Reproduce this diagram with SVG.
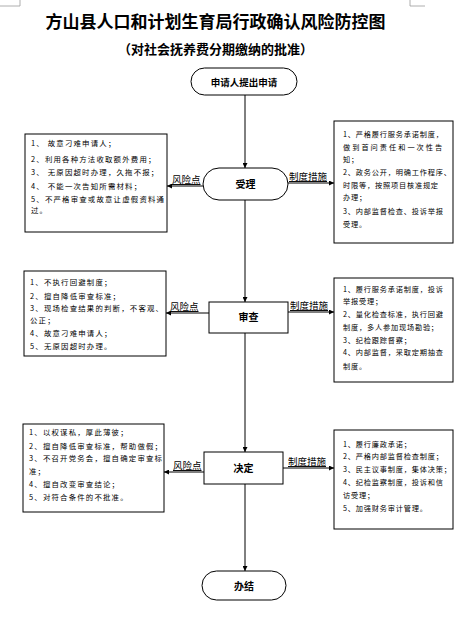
<svg xmlns="http://www.w3.org/2000/svg" width="463" height="617" viewBox="0 0 463 617">
<defs>
<marker id="ah" viewBox="0 0 10 10" refX="10" refY="5" markerWidth="5" markerHeight="5" orient="auto" markerUnits="userSpaceOnUse">
<path d="M0,0 L10,5 L0,10 Z" fill="#000"/>
</marker>
</defs>
<style>
text{font-family:"Noto Sans CJK SC","Liberation Sans",sans-serif;fill:#000}
.title{font-size:17px;font-weight:bold}
.sub{font-size:13px;font-weight:bold}
.node{font-size:10px;font-weight:bold}
.lbl{font-size:9.5px;text-decoration:underline}
.box{font-size:7.4px;letter-spacing:1.2px}
.rbox{font-size:7.2px;letter-spacing:0.8px}
.shape{fill:#fff;stroke:#000;stroke-width:1}
.conn{stroke:#000;stroke-width:1;fill:none;marker-end:url(#ah)}
.mark{stroke:#999;stroke-width:0.8;fill:none}
</style>
<rect width="463" height="617" fill="#fff"/>
<path class="mark" d="M20,0 V6 H0 M410,0 V6 H425"/>
<text class="title" x="215.5" y="28" text-anchor="middle">方山县人口和计划生育局行政确认风险防控图</text>
<text class="sub" x="215.5" y="54" text-anchor="middle">（对社会抚养费分期缴纳的批准）</text>

<g id="start">
<rect class="shape" x="191" y="68" width="106" height="27" rx="13.5"/>
<text class="node" x="244" y="85.5" text-anchor="middle" style="font-size:9.5px">申请人提出申请</text>
</g>
<g id="accept">
<rect class="shape" x="203" y="168" width="85" height="32" rx="16"/>
<text class="node" x="245.5" y="188" text-anchor="middle">受理</text>
</g>
<g id="review">
<rect class="shape" x="209" y="302" width="79" height="31"/>
<text class="node" x="248.5" y="321" text-anchor="middle">审查</text>
</g>
<g id="decide">
<rect class="shape" x="204" y="452" width="79" height="32"/>
<text class="node" x="243.5" y="472" text-anchor="middle">决定</text>
</g>
<g id="end">
<rect class="shape" x="202" y="571" width="84" height="29" rx="14.5"/>
<text class="node" x="244" y="589.5" text-anchor="middle">办结</text>
</g>

<g id="risk1">
<rect class="shape" x="25" y="134" width="142" height="98"/>
<text class="box" x="31" y="146">1、 故意刁难申请人；</text>
<text class="box" x="31" y="162">2、利用各种方法收取额外费用；</text>
<text class="box" x="31" y="175">3、 无原因超时办理，久拖不报；</text>
<text class="box" x="31" y="189">4、 不能一次告知所需材料；</text>
<text class="box" x="31" y="202">5、不严格审查或故意让虚假资料通</text>
<text class="box" x="31" y="213">过。</text>
</g>
<g id="measure1">
<rect class="shape" x="334" y="121" width="119" height="122"/>
<text class="rbox" x="343" y="137">1、严格履行服务承诺制度，</text>
<text class="rbox" x="343" y="150" textLength="100" lengthAdjust="spacing">做到首问责任和一次性告</text>
<text class="rbox" x="343" y="162">知；</text>
<text class="rbox" x="343" y="175">2、政务公开，明确工作程序、</text>
<text class="rbox" x="343" y="188">时限等，按照项目核准规定</text>
<text class="rbox" x="343" y="200">办理；</text>
<text class="rbox" x="343" y="214">3、内部监督检查、投诉举报</text>
<text class="rbox" x="343" y="227">受理。</text>
</g>
<g id="risk2">
<rect class="shape" x="24" y="271" width="142" height="85"/>
<text class="box" x="30" y="285">1、不执行回避制度；</text>
<text class="box" x="30" y="299">2、擅自降低审查标准；</text>
<text class="box" x="30" y="311">3、现场检查结果的判断，不客观、</text>
<text class="box" x="30" y="323">公正；</text>
<text class="box" x="30" y="336">4、故意刁难申请人；</text>
<text class="box" x="30" y="349">5、无原因超时办理。</text>
</g>
<g id="measure2">
<rect class="shape" x="334" y="278" width="119" height="104"/>
<text class="rbox" x="343" y="292">1、履行服务承诺制度，投诉</text>
<text class="rbox" x="343" y="304">举报受理；</text>
<text class="rbox" x="343" y="317">2、量化检查标准，执行回避</text>
<text class="rbox" x="343" y="330">制度，多人参加现场勘验；</text>
<text class="rbox" x="343" y="343">3、纪检跟踪督察；</text>
<text class="rbox" x="343" y="355">4、内部监督，采取定期抽查</text>
<text class="rbox" x="343" y="369">制度。</text>
</g>
<g id="risk3">
<rect class="shape" x="23" y="424" width="141" height="88"/>
<text class="box" x="29" y="435">1、以权谋私，厚此薄彼；</text>
<text class="box" x="29" y="449">2、擅自降低审查标准，帮助做假；</text>
<text class="box" x="29" y="461">3、不召开党务会，擅自确定审查标</text>
<text class="box" x="29" y="474">准；</text>
<text class="box" x="29" y="487">4、擅自改变审查结论；</text>
<text class="box" x="29" y="500">5、对符合条件的不批准。</text>
</g>
<g id="measure3">
<rect class="shape" x="334" y="430" width="119" height="99"/>
<text class="rbox" x="343" y="447">1、履行廉政承诺；</text>
<text class="rbox" x="343" y="459">2、严格内部监督检查制度；</text>
<text class="rbox" x="343" y="472">3、民主议事制度，集体决策；</text>
<text class="rbox" x="343" y="485">4、纪检监察制度，投诉和信</text>
<text class="rbox" x="343" y="498">访受理；</text>
<text class="rbox" x="343" y="511">5、加强财务审计管理。</text>
</g>

<g id="connectors">
<line class="conn" x1="245" y1="95" x2="245" y2="168"/>
<line class="conn" x1="245" y1="200" x2="245" y2="302"/>
<line class="conn" x1="245" y1="333" x2="245" y2="452"/>
<line class="conn" x1="245" y1="484" x2="245" y2="571"/>
<line class="conn" x1="203" y1="186" x2="167" y2="186"/>
<line class="conn" x1="288" y1="183" x2="334" y2="183"/>
<line class="conn" x1="209" y1="313" x2="166" y2="313"/>
<line class="conn" x1="288" y1="312" x2="334" y2="312"/>
<line class="conn" x1="204" y1="472" x2="164" y2="472"/>
<line class="conn" x1="283" y1="468" x2="334" y2="468"/>
<text class="lbl" x="172" y="183">风险点</text>
<text class="lbl" x="289" y="180">制度措施</text>
<text class="lbl" x="170" y="310">风险点</text>
<text class="lbl" x="290" y="309">制度措施</text>
<text class="lbl" x="173" y="469">风险点</text>
<text class="lbl" x="288" y="465">制度措施</text>
</g>
</svg>
